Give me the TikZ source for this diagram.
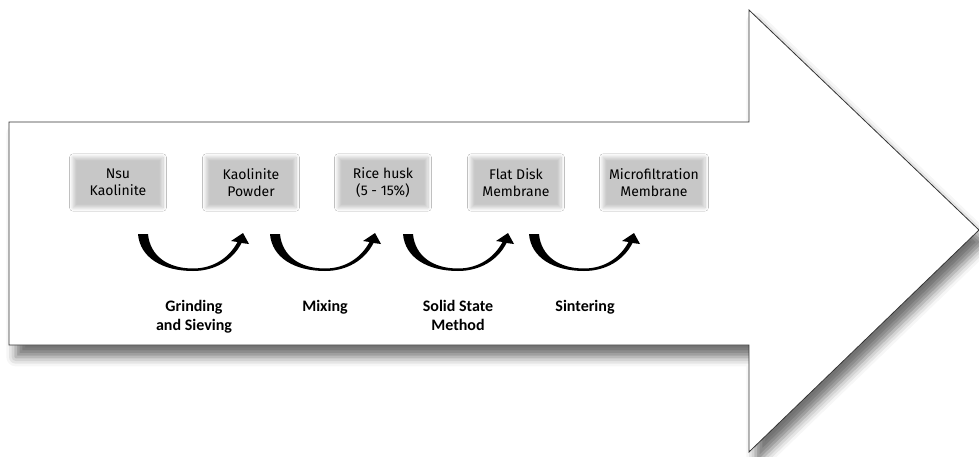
\documentclass[tikz,border=0pt]{standalone}
\usepackage{fontspec}
\newfontfamily\boxfont{Fira Sans}
\newfontfamily\stepfont{Carlito}
\usetikzlibrary{arrows.meta,shadows.blur}

\begin{document}
\begin{tikzpicture}[
    x=0.75pt, y=-0.75pt,
    stage/.style={font=\boxfont\fontsize{10.5}{12.75}\selectfont, minimum width=67.5pt, minimum height=38pt, align=center, inner sep=2pt,
      blur shadow={shadow xshift=0pt, shadow yshift=0pt, shadow blur radius=2.5pt, shadow opacity=22, shadow blur steps=12}},
    stepname/.style={font=\stepfont\bfseries\fontsize{12}{14.25}\selectfont, align=center, anchor=north, inner sep=0pt},
    outline/.style={draw=gray!40!black, line width=0.6pt, fill=white,
      blur shadow={shadow xshift=5pt, shadow yshift=-9pt, shadow blur radius=7pt, shadow opacity=55}},
    uturn/.pic={
      \fill[black] (-55,-36) .. controls (-53,-12) and (-30,1) .. (0,1)
        .. controls (22,1) and (40,-10) .. (48.5,-27)
        -- (56,-26) -- (50,-37) -- (38,-29) -- (44.5,-28)
        .. controls (36,-12) and (20,-1.5) .. (0,-1.5)
        .. controls (-25,-1.5) and (-43,-14) .. (-45,-36) -- cycle;
    },
    >=Stealth
  ]
  \useasboundingbox (0,0) rectangle (979,457);

  % big process arrow
  \path[outline] (9,122) -- (749,122) -- (749,10) -- (979,230) -- (749,452) -- (749,345) -- (9,345) -- cycle;

  % stages
  \node[stage] (nsu) at (118,182.5) {Nsu\\Kaolinite};
  \node[stage] (powder) at (251,182.5) {Kaolinite\\Powder};
  \node[stage] (husk) at (383,182.5) {Rice husk\\(5 - 15\%)};
  \node[stage] (disk) at (516,182.5) {Flat Disk\\Membrane};
  \node[stage, minimum width=76.5pt] (micro) at (654,182.5) {Microfiltration\\Membrane};

  % turning arrows
  \pic at (193,270) {uturn};
  \pic at (325,270) {uturn};
  \pic at (458,270) {uturn};
  \pic at (584,270) {uturn};

  % steps
  \node[stepname] (grind) at (194,300) {Grinding\\and Sieving};
  \node[stepname] (mix) at (325,300) {Mixing};
  \node[stepname] (solid) at (458,300) {Solid State\\Method};
  \node[stepname] (sinter) at (585,300) {Sintering};
\end{tikzpicture}
\end{document}
